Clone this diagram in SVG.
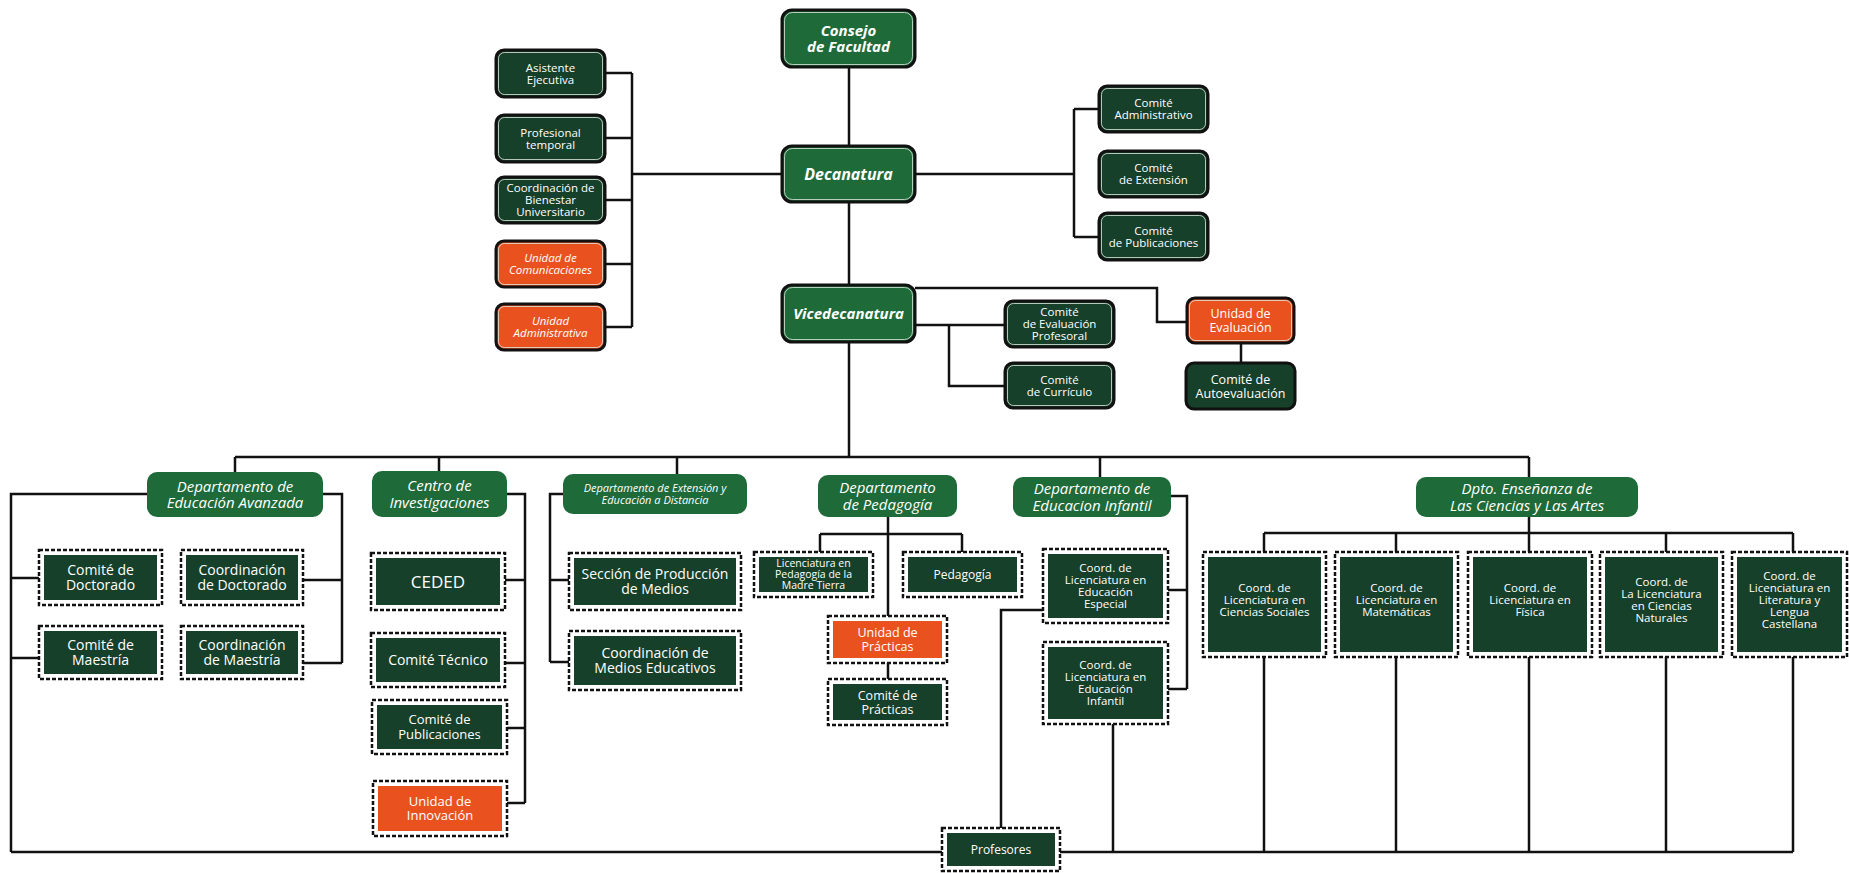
<svg xmlns="http://www.w3.org/2000/svg" width="1849" height="873" viewBox="0 0 1849 873">
<style>
.bg{fill:#fff}
.ln{stroke:#111;stroke-width:2.5;fill:none}
.mid{fill:#1e6a39}
.top{fill:#1e6a39;stroke:#111;stroke-width:3}
.dk{fill:#17402a;stroke:#111;stroke-width:3}
.or{fill:#e9521f;stroke:#111;stroke-width:3}
.hl{fill:none;stroke:#dfe9e0;stroke-width:0.8}
.dash{fill:#fff;stroke:#111;stroke-width:2.5;stroke-dasharray:4 2}
.in{fill:#17402a}
.inor{fill:#e9521f}
.t{font-family:"Open Sans","DejaVu Sans",sans-serif;fill:#fff;text-anchor:middle}
.bi{font-weight:bold;font-style:italic}
.it{font-style:italic}
</style>
<rect class="bg" x="0" y="0" width="1849" height="873"/>
<g id="connectors">
<path class="ln" d="M849 67V146M849 202V285M849 342V457"/>
<path class="ln" d="M782 174H632M632 73V327M605 73H632M605 138H632M605 200H632M605 264H632M605 327H632"/>
<path class="ln" d="M915 174H1074M1074 109V237M1074 109H1099M1074 237H1099"/>
<path class="ln" d="M915 288H1157V322H1187M915 325H1005M949 325V386H1005M1241 343V363"/>
<path class="ln" d="M235 457H1529M235 457V472M439 457V471M677 457V474M1100 457V477M1529 457V477"/>
<path class="ln" d="M147 494H11V852M11 578H39M11 658H39M323 494H342V663M303 580H342M303 663H342"/>
<path class="ln" d="M507 494H525V803M505 580H525M505 663H525M507 728H525M507 803H525"/>
<path class="ln" d="M563 494H550V662M550 580H569M550 662H569"/>
<path class="ln" d="M888 517V616M820 534H962M820 534V552M962 534V552M888 663V679"/>
<path class="ln" d="M1171 496H1187V689M1168 590H1187M1168 689H1187M1043 610H1001V828M1113 724V852"/>
<path class="ln" d="M1529 517V552M1264 533H1793M1264 533V552M1396 533V552M1666 533V552M1793 533V552"/>
<path class="ln" d="M1264 657V852M1396 657V852M1529 657V852M1666 657V852M1793 657V852"/>
<path class="ln" d="M11 852H1793"/>
</g>
<g id="consejo"><rect class="top" x="782" y="10" width="133" height="57" rx="10"/><rect class="hl" x="784.5" y="12.5" width="128" height="52" rx="8"/><text class="t bi" font-size="15"><tspan x="848.5" y="35.6">Consejo</tspan><tspan x="848.5" y="52.1">de Facultad</tspan></text></g>
<g id="decanatura"><rect class="top" x="782" y="146" width="133" height="56" rx="10"/><rect class="hl" x="784.5" y="148.5" width="128" height="51" rx="8"/><text class="t bi" font-size="16" x="848.5" y="180">Decanatura</text></g>
<g id="vicedecanatura"><rect class="top" x="782" y="285" width="133" height="57" rx="10"/><rect class="hl" x="784.5" y="287.5" width="128" height="52" rx="8"/><text class="t bi" font-size="15" x="848.5" y="319">Vicedecanatura</text></g>
<g id="asistente"><rect class="dk" x="496" y="50" width="109" height="47" rx="8"/><rect class="hl" x="498.5" y="52.5" width="104" height="42" rx="6"/><text class="t" font-size="11.5"><tspan x="550.5" y="71.6">Asistente</tspan><tspan x="550.5" y="83.6">Ejecutiva</tspan></text></g>
<g id="profesional"><rect class="dk" x="496" y="115" width="109" height="47" rx="8"/><rect class="hl" x="498.5" y="117.5" width="104" height="42" rx="6"/><text class="t" font-size="11.5"><tspan x="550.5" y="136.6">Profesional</tspan><tspan x="550.5" y="148.6">temporal</tspan></text></g>
<g id="bienestar"><rect class="dk" x="496" y="177" width="109" height="46" rx="8"/><rect class="hl" x="498.5" y="179.5" width="104" height="41" rx="6"/><text class="t" font-size="11.5"><tspan x="550.5" y="192.1">Coordinación de</tspan><tspan x="550.5" y="204.1">Bienestar</tspan><tspan x="550.5" y="216.1">Universitario</tspan></text></g>
<g id="comunicaciones"><rect class="or" x="496" y="241" width="109" height="46" rx="8"/><rect class="hl" x="498.5" y="243.5" width="104" height="41" rx="6"/><text class="t it" font-size="11.5"><tspan x="550.5" y="262.1">Unidad de</tspan><tspan x="550.5" y="274.1">Comunicaciones</tspan></text></g>
<g id="administrativa"><rect class="or" x="496" y="304" width="109" height="46" rx="8"/><rect class="hl" x="498.5" y="306.5" width="104" height="41" rx="6"/><text class="t it" font-size="11.5"><tspan x="550.5" y="325.1">Unidad</tspan><tspan x="550.5" y="337.1">Administrativa</tspan></text></g>
<g id="comite-administrativo"><rect class="dk" x="1099" y="86" width="109" height="46" rx="8"/><rect class="hl" x="1101.5" y="88.5" width="104" height="41" rx="6"/><text class="t" font-size="11.5"><tspan x="1153.5" y="107.1">Comité</tspan><tspan x="1153.5" y="119.1">Administrativo</tspan></text></g>
<g id="comite-extension"><rect class="dk" x="1099" y="151" width="109" height="46" rx="8"/><rect class="hl" x="1101.5" y="153.5" width="104" height="41" rx="6"/><text class="t" font-size="11.5"><tspan x="1153.5" y="172.1">Comité</tspan><tspan x="1153.5" y="184.1">de Extensión</tspan></text></g>
<g id="comite-publicaciones"><rect class="dk" x="1099" y="213" width="109" height="47" rx="8"/><rect class="hl" x="1101.5" y="215.5" width="104" height="42" rx="6"/><text class="t" font-size="11.5"><tspan x="1153.5" y="234.6">Comité</tspan><tspan x="1153.5" y="246.6">de Publicaciones</tspan></text></g>
<g id="evaluacion-profesoral"><rect class="dk" x="1005" y="301" width="109" height="46" rx="8"/><rect class="hl" x="1007.5" y="303.5" width="104" height="41" rx="6"/><text class="t" font-size="11.5"><tspan x="1059.5" y="316.1">Comité</tspan><tspan x="1059.5" y="328.1">de Evaluación</tspan><tspan x="1059.5" y="340.1">Profesoral</tspan></text></g>
<g id="curriculo"><rect class="dk" x="1005" y="363" width="109" height="45" rx="8"/><rect class="hl" x="1007.5" y="365.5" width="104" height="40" rx="6"/><text class="t" font-size="11.5"><tspan x="1059.5" y="383.6">Comité</tspan><tspan x="1059.5" y="395.6">de Currículo</tspan></text></g>
<g id="unidad-evaluacion"><rect class="or" x="1187" y="298" width="107" height="45" rx="8"/><rect class="hl" x="1189.5" y="300.5" width="102" height="40" rx="6"/><text class="t" font-size="12.5"><tspan x="1240.5" y="318">Unidad de</tspan><tspan x="1240.5" y="332">Evaluación</tspan></text></g>
<g id="autoevaluacion"><rect class="dk" x="1186" y="363" width="109" height="46" rx="8" stroke-width="4"/><text class="t" font-size="12.5"><tspan x="1240.5" y="383.5">Comité de</tspan><tspan x="1240.5" y="397.5">Autoevaluación</tspan></text></g>
<g id="educacion-avanzada"><rect class="mid" x="147" y="472" width="176" height="45" rx="10"/><text class="t it" font-size="15"><tspan x="235" y="491.6">Departamento de</tspan><tspan x="235" y="508.1">Educación Avanzada</tspan></text></g>
<g id="centro-investigaciones"><rect class="mid" x="372" y="471" width="135" height="46" rx="10"/><text class="t it" font-size="15"><tspan x="439.5" y="491.1">Centro de</tspan><tspan x="439.5" y="507.6">Investigaciones</tspan></text></g>
<g id="extension-distancia"><rect class="mid" x="563" y="474" width="184" height="40" rx="10"/><text class="t it" font-size="11"><tspan x="655" y="492">Departamento de Extensión y</tspan><tspan x="655" y="504">Educación a Distancia</tspan></text></g>
<g id="pedagogia"><rect class="mid" x="818" y="475" width="139" height="42" rx="10"/><text class="t it" font-size="15"><tspan x="887.5" y="493.1">Departamento</tspan><tspan x="887.5" y="509.6">de Pedagogía</tspan></text></g>
<g id="educacion-infantil"><rect class="mid" x="1013" y="477" width="158" height="40" rx="10"/><text class="t it" font-size="15"><tspan x="1092" y="494.1">Departamento de</tspan><tspan x="1092" y="510.6">Educacion Infantil</tspan></text></g>
<g id="dpto-ensenanza"><rect class="mid" x="1416" y="477" width="222" height="40" rx="10"/><text class="t it" font-size="15"><tspan x="1527" y="494.1">Dpto. Enseñanza de</tspan><tspan x="1527" y="510.6">Las Ciencias y Las Artes</tspan></text></g>
<g id="comite-doctorado"><rect class="dash" x="39" y="550" width="123" height="55"/><rect class="in" x="44" y="555" width="113" height="45"/><text class="t" font-size="14"><tspan x="100.5" y="574.8">Comité de</tspan><tspan x="100.5" y="590.3">Doctorado</tspan></text></g>
<g id="coord-doctorado"><rect class="dash" x="181" y="550" width="122" height="55"/><rect class="in" x="186" y="555" width="112" height="45"/><text class="t" font-size="14"><tspan x="242" y="574.8">Coordinación</tspan><tspan x="242" y="590.3">de Doctorado</tspan></text></g>
<g id="comite-maestria"><rect class="dash" x="39" y="626" width="123" height="53"/><rect class="in" x="44" y="631" width="113" height="43"/><text class="t" font-size="14"><tspan x="100.5" y="649.8">Comité de</tspan><tspan x="100.5" y="665.3">Maestría</tspan></text></g>
<g id="coord-maestria"><rect class="dash" x="181" y="626" width="122" height="53"/><rect class="in" x="186" y="631" width="112" height="43"/><text class="t" font-size="14"><tspan x="242" y="649.8">Coordinación</tspan><tspan x="242" y="665.3">de Maestría</tspan></text></g>
<g id="ceded"><rect class="dash" x="371" y="553" width="134" height="57"/><rect class="in" x="376" y="558" width="124" height="47"/><text class="t" font-size="17" x="438" y="587.6">CEDED</text></g>
<g id="comite-tecnico"><rect class="dash" x="371" y="633" width="134" height="54"/><rect class="in" x="376" y="638" width="124" height="44"/><text class="t" font-size="14" x="438" y="665">Comité Técnico</text></g>
<g id="comite-publicaciones-ci"><rect class="dash" x="372" y="700" width="135" height="54"/><rect class="in" x="377" y="705" width="125" height="44"/><text class="t" font-size="13"><tspan x="439.5" y="724.4">Comité de</tspan><tspan x="439.5" y="738.9">Publicaciones</tspan></text></g>
<g id="unidad-innovacion"><rect class="dash" x="373" y="781" width="134" height="55"/><rect class="inor" x="378" y="786" width="124" height="45"/><text class="t" font-size="13"><tspan x="440" y="805.9">Unidad de</tspan><tspan x="440" y="820.4">Innovación</tspan></text></g>
<g id="seccion-produccion"><rect class="dash" x="569" y="553" width="172" height="57"/><rect class="in" x="574" y="558" width="162" height="47"/><text class="t" font-size="14"><tspan x="655" y="578.8">Sección de Producción</tspan><tspan x="655" y="594.3">de Medios</tspan></text></g>
<g id="coord-medios"><rect class="dash" x="569" y="631" width="172" height="59"/><rect class="in" x="574" y="636" width="162" height="49"/><text class="t" font-size="14"><tspan x="655" y="657.8">Coordinación de</tspan><tspan x="655" y="673.3">Medios Educativos</tspan></text></g>
<g id="madre-tierra"><rect class="dash" x="754" y="552" width="119" height="45"/><rect class="in" x="759" y="557" width="109" height="35"/><text class="t" font-size="10.5"><tspan x="813.5" y="567.3">Licenciatura en</tspan><tspan x="813.5" y="578.3">Pedagogía de la</tspan><tspan x="813.5" y="589.3">Madre Tierra</tspan></text></g>
<g id="pedagogia-lic"><rect class="dash" x="903" y="552" width="119" height="45"/><rect class="in" x="908" y="557" width="109" height="35"/><text class="t" font-size="12" x="962.5" y="578.8">Pedagogía</text></g>
<g id="unidad-practicas"><rect class="dash" x="828" y="616" width="119" height="47"/><rect class="inor" x="833" y="621" width="109" height="37"/><text class="t" font-size="12.5"><tspan x="887.5" y="637">Unidad de</tspan><tspan x="887.5" y="651">Prácticas</tspan></text></g>
<g id="comite-practicas"><rect class="dash" x="828" y="679" width="119" height="46"/><rect class="in" x="833" y="684" width="109" height="36"/><text class="t" font-size="12.5"><tspan x="887.5" y="699.5">Comité de</tspan><tspan x="887.5" y="713.5">Prácticas</tspan></text></g>
<g id="educacion-especial"><rect class="dash" x="1043" y="549" width="125" height="74"/><rect class="in" x="1048" y="554" width="115" height="64"/><text class="t" font-size="11.5"><tspan x="1105.5" y="572.1">Coord. de</tspan><tspan x="1105.5" y="584.1">Licenciatura en</tspan><tspan x="1105.5" y="596.1">Educación</tspan><tspan x="1105.5" y="608.1">Especial</tspan></text></g>
<g id="educacion-infantil-lic"><rect class="dash" x="1043" y="642" width="125" height="82"/><rect class="in" x="1048" y="647" width="115" height="72"/><text class="t" font-size="11.5"><tspan x="1105.5" y="669.1">Coord. de</tspan><tspan x="1105.5" y="681.1">Licenciatura en</tspan><tspan x="1105.5" y="693.1">Educación</tspan><tspan x="1105.5" y="705.1">Infantil</tspan></text></g>
<g id="ciencias-sociales"><rect class="dash" x="1203" y="552" width="123" height="105"/><rect class="in" x="1208" y="557" width="113" height="95"/><text class="t" font-size="11.5"><tspan x="1264.5" y="592.1">Coord. de</tspan><tspan x="1264.5" y="604.1">Licenciatura en</tspan><tspan x="1264.5" y="616.1">Ciencias Sociales</tspan></text></g>
<g id="matematicas"><rect class="dash" x="1335" y="552" width="123" height="105"/><rect class="in" x="1340" y="557" width="113" height="95"/><text class="t" font-size="11.5"><tspan x="1396.5" y="592.1">Coord. de</tspan><tspan x="1396.5" y="604.1">Licenciatura en</tspan><tspan x="1396.5" y="616.1">Matemáticas</tspan></text></g>
<g id="fisica"><rect class="dash" x="1468" y="552" width="124" height="105"/><rect class="in" x="1473" y="557" width="114" height="95"/><text class="t" font-size="11.5"><tspan x="1530" y="592.1">Coord. de</tspan><tspan x="1530" y="604.1">Licenciatura en</tspan><tspan x="1530" y="616.1">Física</tspan></text></g>
<g id="ciencias-naturales"><rect class="dash" x="1600" y="552" width="123" height="105"/><rect class="in" x="1605" y="557" width="113" height="95"/><text class="t" font-size="11.5"><tspan x="1661.5" y="586.1">Coord. de</tspan><tspan x="1661.5" y="598.1">La Licenciatura</tspan><tspan x="1661.5" y="610.1">en Ciencias</tspan><tspan x="1661.5" y="622.1">Naturales</tspan></text></g>
<g id="literatura"><rect class="dash" x="1732" y="552" width="115" height="105"/><rect class="in" x="1737" y="557" width="105" height="95"/><text class="t" font-size="11.5"><tspan x="1789.5" y="580.1">Coord. de</tspan><tspan x="1789.5" y="592.1">Licenciatura en</tspan><tspan x="1789.5" y="604.1">Literatura y</tspan><tspan x="1789.5" y="616.1">Lengua</tspan><tspan x="1789.5" y="628.1">Castellana</tspan></text></g>
<g id="profesores"><rect class="dash" x="942" y="828" width="118" height="43"/><rect class="in" x="947" y="833" width="108" height="33"/><text class="t" font-size="12" x="1001" y="853.8">Profesores</text></g>
</svg>
